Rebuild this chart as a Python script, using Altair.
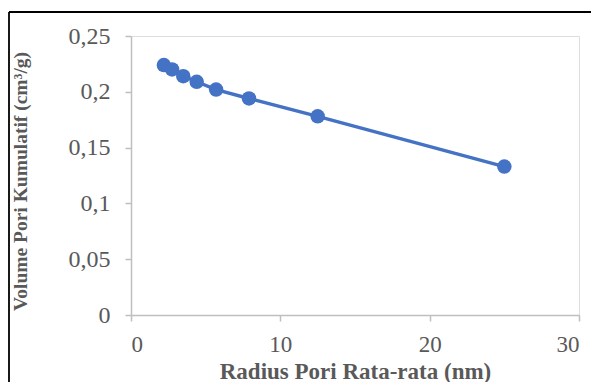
import altair as alt
import pandas as pd

radius = [2.2, 2.75, 3.5, 4.4, 5.7, 7.9, 12.5, 25.0]
volume = [0.224, 0.220, 0.214, 0.209, 0.202, 0.194, 0.178, 0.133]
x_ticks = [0, 10, 20, 30]
y_ticks = [0, 0.05, 0.1, 0.15, 0.2, 0.25]

df = pd.DataFrame({"r": radius, "v": volume})

BLUE = "#4472C4"
GRAY = "#595959"
AXIS = "#BFBFBF"
FONT = "Liberation Serif"

W, H = 448, 279

x_enc = alt.X("r:Q",
              scale=alt.Scale(domain=[0, 30], nice=False),
              axis=alt.Axis(values=x_ticks, title="Radius Pori Rata-rata (nm)",
                            grid=False, domainColor=AXIS, domainWidth=1.5,
                            tickColor=AXIS, tickWidth=1.5, tickSize=6,
                            labelFont=FONT, labelFontSize=23, labelColor=GRAY,
                            labelPadding=12,
                            titleFont=FONT, titleFontSize=23, titleFontWeight="bold",
                            titleColor=GRAY, titleX=W / 2, titleY=56,
                            titleBaseline="middle", titleAlign="center"))
y_enc = alt.Y("v:Q",
              scale=alt.Scale(domain=[0, 0.25], nice=False),
              axis=alt.Axis(values=y_ticks, title="Volume Pori Kumulatif (cm³/g)",
                            grid=False, domainColor=AXIS, domainWidth=1.5,
                            tickColor=AXIS, tickWidth=1.5, tickSize=6,
                            labelFont=FONT, labelFontSize=24, labelColor=GRAY,
                            labelPadding=15,
                            labelExpr="replace(toString(datum.value), '.', ',')",
                            titleFont=FONT, titleFontSize=19.5, titleFontWeight="bold",
                            titleColor=GRAY, titleX=-111, titleY=145,
                            titleBaseline="middle", titleAlign="center", titleAngle=-90))

line = alt.Chart(df).mark_line(color=BLUE, strokeWidth=3.5).encode(x=x_enc, y=y_enc)
pts = alt.Chart(df).mark_circle(color=BLUE, size=210, opacity=1).encode(x="r:Q", y="v:Q")

one = pd.DataFrame({"a": [0]})
frame_top = alt.Chart(one).mark_rule(color="black", strokeWidth=1.8, clip=False).encode(
    x=alt.value(-122), x2=alt.value(900), y=alt.value(-24))
frame_left = alt.Chart(one).mark_rule(color="black", strokeWidth=1.8, clip=False).encode(
    x=alt.value(-122), y=alt.value(-24), y2=alt.value(900))

chart = alt.layer(frame_top, frame_left, line, pts).properties(
    width=W, height=H,
    padding={"left": 123, "top": 28, "right": 12, "bottom": 67},
    autosize=alt.AutoSizeParams(type="none"),
).configure_view(stroke=None).configure(background="white")

chart.save("out.html", embed_options={"renderer": "svg", "actions": False})
